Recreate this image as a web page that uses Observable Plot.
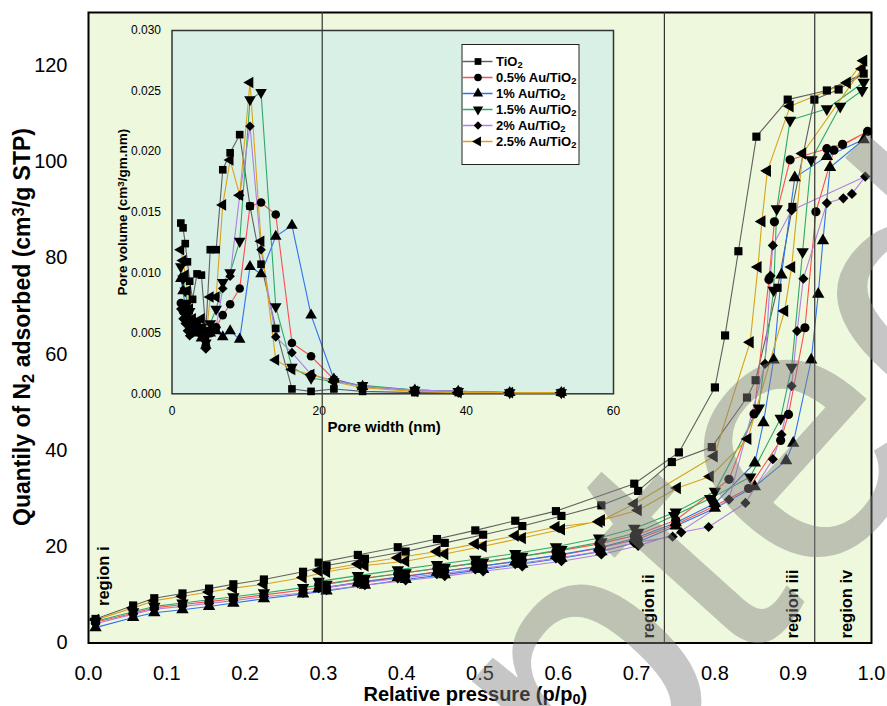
<!DOCTYPE html>
<html><head><meta charset="utf-8">
<script src="https://cdn.jsdelivr.net/npm/d3@7"></script>
<script src="https://cdn.jsdelivr.net/npm/@observablehq/plot@0.6"></script>
<style>
body{margin:0;background:#fff;}
#chart{position:relative;width:887px;height:706px;}
</style></head><body><div id="chart"></div>
<script>
// ---------- series ----------
const seriesNames = ["TiO_{2}", "0.5% Au/TiO_{2}", "1% Au/TiO_{2}", "1.5% Au/TiO_{2}", "2% Au/TiO_{2}", "2.5% Au/TiO_{2}"];
const seriesColors = ["#606060", "#ff4d4d", "#2f72ee", "#2fa866", "#b07ee4", "#d9a21a"];

// ---------- main isotherm (relative pressure, quantity adsorbed) ----------
const lowAdsP = [0.009,0.057,0.084,0.12,0.154,0.185,0.224,0.274,0.304,0.353,0.405,0.455,0.504,0.554,0.604,0.655,0.702];
const lowDesP = [0.697,0.652,0.597,0.545,0.494,0.445,0.395,0.344,0.294];

const tio2AdsP = [...lowAdsP, 0.745,0.796,0.841,0.852,0.88,0.899,0.927,0.958,0.99];
const tio2AdsQ = [5.0,7.8,9.3,10.3,11.3,12.2,13.2,14.8,16.1,17.5,19.0,20.8,22.5,24.3,26.4,28.6,31.6,37.6,40.7,51.0,54.6,73.8,90.6,112.9,115.0,118.3];
const tio2DesP = [0.943,0.893,0.853,0.83,0.813,0.80,0.754,0.697,0.597,0.545,0.494,0.445,0.395,0.344,0.294];
const tio2DesQ = [114.8,112.9,105.2,81.4,63.9,53.1,39.6,33.1,27.4,25.4,23.4,21.6,19.9,18.3,16.7];

const au05AdsP = [...lowAdsP, 0.75,0.80,0.843,0.884,0.894,0.915,0.929,0.952,0.995];
const au05AdsQ = [4.3,6.2,7.3,8.0,8.6,9.2,10.0,11.0,11.6,12.8,13.9,15.0,16.0,17.2,18.3,19.8,21.6,24.6,28.5,32.1,42.1,47.5,65.5,89.6,102.4,106.3];
const au05DesP = [0.963,0.943,0.896,0.876,0.869,0.85,0.818,0.75,...lowDesP];
const au05DesQ = [103.6,102.7,100.4,87.5,75.5,47.6,34.0,25.5,22.3,20.6,19.0,17.8,16.6,15.5,14.4,13.3,12.1];

const au1AdsP = [...lowAdsP, 0.75,0.80,0.851,0.891,0.90,0.923,0.932,0.938,0.947,0.99];
const au1AdsQ = [3.2,5.3,6.3,6.9,7.6,8.3,9.2,10.2,10.8,12.0,13.2,14.2,15.3,16.4,17.6,19.0,21.0,24.3,28.0,32.5,37.9,41.5,58.8,72.5,83.6,98.8,104.6];
const au1DesP = [0.943,0.902,0.885,0.875,0.862,0.851,0.80,0.75,...lowDesP];
const au1DesQ = [101.1,96.7,76.5,58.8,45.8,37.4,29.0,25.0,21.7,19.8,18.2,16.9,15.8,14.7,13.6,12.5,11.3];

const au15AdsP = [...lowAdsP, 0.748,0.794,0.845,0.884,0.898,0.912,0.923,0.96,0.988];
const au15AdsQ = [4.5,6.5,7.6,8.3,9.0,9.6,10.4,11.5,12.2,13.4,14.6,15.7,16.8,18.0,19.4,21.0,23.0,26.5,30.0,34.5,46.7,57.3,81.3,100.4,111.5,114.8];
const au15DesP = [0.99,0.943,0.896,0.879,0.875,0.856,0.80,0.75,...lowDesP];
const au15DesQ = [116.5,111.0,108.6,90.2,73.3,48.8,31.5,27.2,23.8,21.8,20.0,18.6,17.4,16.3,15.2,14.0,12.8];

const au2AdsP = [...lowAdsP, 0.757,0.792,0.839,0.874,0.885,0.898,0.905,0.913,0.943,0.964,0.975,0.992];
const au2AdsQ = [4.0,6.0,7.0,7.6,8.2,8.8,9.6,10.4,11.0,12.0,13.0,13.9,14.9,15.9,17.0,18.4,20.2,23.0,24.1,29.1,38.2,43.3,53.4,64.8,75.7,91.4,92.4,93.3,96.9];
const au2DesP = [0.898,0.874,0.871,0.864,0.818,0.746,...lowDesP];
const au2DesQ = [89.9,82.6,76.3,58.0,29.8,22.1,20.8,19.0,17.6,16.4,15.3,14.3,13.4,12.4,11.4];

const au25AdsP = [...lowAdsP, 0.752,0.794,0.842,0.889,0.898,0.912,0.988];
const au25AdsQ = [4.8,7.3,8.8,9.7,10.6,11.4,12.2,13.6,14.8,16.1,17.0,18.5,20.1,21.8,23.6,25.5,27.6,32.2,34.6,42.4,69.0,78.1,101.7,119.3];
const au25DesP = [0.99,0.969,0.896,0.867,0.86,0.855,0.845,0.799,...lowDesP];
const au25DesQ = [121.0,116.4,111.5,98.1,87.6,78.1,62.5,38.8,28.9,25.2,24.1,22.3,20.6,19.0,17.7,16.4,15.0];

// ---------- inset: pore size distribution ----------
const poreW = [1.2,1.5,1.8,2.1,2.4,2.8,3.4,4.0,4.6,5.2,6.0,6.9,7.9,9.2,10.6,12.1,14.1,16.3,18.9,22.0,25.9,33.0,38.9,45.9,52.9];
const tio2V = [0.0141,0.0137,0.0124,0.0109,0.0093,0.0078,0.0099,0.0098,0.0052,0.0119,0.0119,0.0185,0.0199,0.0214,0.0155,0.0107,0.0054,0.0004,0.0002,0.0004,0.0002,0.0001,0.0001,0.0001,0.0001];
const au05V = [0.0075,0.0068,0.0062,0.0058,0.0055,0.0052,0.0055,0.0050,0.0040,0.0050,0.0055,0.0065,0.0074,0.0087,0.0155,0.0158,0.0148,0.0042,0.0031,0.0012,0.0006,0.0003,0.0002,0.0001,0.0001];
const au1V  = [0.0095,0.0085,0.0072,0.0065,0.0058,0.0055,0.0050,0.0046,0.0040,0.0050,0.0052,0.0047,0.0052,0.0045,0.0105,0.0099,0.0130,0.0139,0.0065,0.0012,0.0006,0.0003,0.0002,0.0001,0.0001];
const au15V = [0.0105,0.0095,0.0085,0.0075,0.0068,0.0060,0.0058,0.0055,0.0042,0.0058,0.0070,0.0092,0.0100,0.0126,0.0243,0.0249,0.0072,0.0022,0.0013,0.0010,0.0007,0.0003,0.0002,0.0001,0.0001];
const au2V  = [0.0070,0.0062,0.0058,0.0052,0.0048,0.0050,0.0052,0.0048,0.0037,0.0052,0.0055,0.0087,0.0097,0.0164,0.0221,0.0119,0.0047,0.0034,0.0016,0.0011,0.0006,0.0003,0.0002,0.0001,0.0001];
const au25V = [0.0119,0.0110,0.0098,0.0085,0.0070,0.0062,0.0058,0.0062,0.0045,0.0080,0.0080,0.0156,0.0193,0.0164,0.0257,0.0126,0.0028,0.0020,0.0016,0.0010,0.0005,0.0002,0.0001,0.0001,0.0001];

// ---------- ticks & annotations ----------
const xTicks = [0,0.1,0.2,0.3,0.4,0.5,0.6,0.7,0.8,0.9,1.0];
const yTicks = [0,20,40,60,80,100,120];
const insetXTicks = [0,20,40,60];
const insetYTicks = [0,0.005,0.010,0.015,0.020,0.025,0.030];
const regionBounds = [0.2985, 0.7355, 0.9275];
const regionNames = ["region i","region ii","region iii","region iv"];
const regionLabelX = [0.0265, 0.7225, 0.9065, 0.9745];

// ---------- build tables ----------
const ads = [[tio2AdsP,tio2AdsQ],[au05AdsP,au05AdsQ],[au1AdsP,au1AdsQ],[au15AdsP,au15AdsQ],[au2AdsP,au2AdsQ],[au25AdsP,au25AdsQ]];
const des = [[tio2DesP,tio2DesQ],[au05DesP,au05DesQ],[au1DesP,au1DesQ],[au15DesP,au15DesQ],[au2DesP,au2DesQ],[au25DesP,au25DesQ]];
const iso = [];
seriesNames.forEach((s,i)=>{
  ads[i][0].forEach((p,j)=>iso.push({s, p, q: ads[i][1][j]}));
  des[i][0].forEach((p,j)=>iso.push({s, p, q: des[i][1][j]}));
});
const psdV = [tio2V,au05V,au1V,au15V,au2V,au25V];
const psd = [];
seriesNames.forEach((s,i)=>poreW.forEach((w,j)=>psd.push({s, w, v: psdV[i][j]})));

// ---------- symbols ----------
const sqrt3 = Math.sqrt(3);
const triangleDown = {draw(c,size){const y=-Math.sqrt(size/(sqrt3*3)); c.moveTo(0,-y*2); c.lineTo(-sqrt3*y,y); c.lineTo(sqrt3*y,y); c.closePath();}};
const triangleLeft = {draw(c,size){const y=-Math.sqrt(size/(sqrt3*3)); c.moveTo(y*2,0); c.lineTo(-y,-sqrt3*y); c.lineTo(-y,sqrt3*y); c.closePath();}};
const seriesSymbols = ["square","circle","triangle",triangleDown,"diamond2",triangleLeft];

const font = "'Liberation Sans', Arial, sans-serif";
const ns = "http://www.w3.org/2000/svg";

function richify(root){
  root.querySelectorAll("text").forEach(t=>{
    const s = t.textContent;
    if(!/[_^]\{/.test(s)) return;
    while(t.firstChild) t.removeChild(t.firstChild);
    const re = /([_^])\{([^}]*)\}/g; let last = 0, m;
    while((m = re.exec(s))){
      if(m.index > last){const a=document.createElementNS(ns,"tspan"); a.textContent=s.slice(last,m.index); t.appendChild(a);}
      const b=document.createElementNS(ns,"tspan"); b.textContent=m[2];
      b.setAttribute("baseline-shift", m[1]==="_" ? "-22%" : "35%");
      b.setAttribute("font-size","72%"); t.appendChild(b);
      last = re.lastIndex;
    }
    if(last < s.length){const a=document.createElementNS(ns,"tspan"); a.textContent=s.slice(last); t.appendChild(a);}
  });
}
function fixSize(svg, w, h){
  svg.style.width = w + "px"; svg.style.height = h + "px"; svg.style.maxWidth = "none";
}

// ---------- main plot ----------
const main = Plot.plot({
  width: 887, height: 706,
  marginLeft: 88, marginRight: 16, marginTop: 12, marginBottom: 63.5,
  style: {fontFamily: font, fontSize: "20px", color: "#000", background: "transparent", overflow: "hidden"},
  x: {domain: [0,1], ticks: xTicks, tickFormat: d3.format(".1f"), tickSize: 0, tickPadding: 23, label: null},
  y: {domain: [0,131], ticks: yTicks, tickSize: 0, tickPadding: 21, label: null},
  color: {domain: seriesNames, range: seriesColors},
  symbol: {domain: seriesNames, range: seriesSymbols},
  marks: [
    Plot.frame({fill: "#eef8dd", stroke: "none"}),
    Plot.line(iso, {x: "p", y: "q", z: "s", stroke: "s", strokeWidth: 1.1}),
    Plot.dot(iso, {x: "p", y: "q", symbol: "s", fill: "black", r: 4.6}),
    Plot.ruleX(regionBounds, {stroke: "#333", strokeWidth: 1.2}),
    Plot.frame({stroke: "black", strokeWidth: 2}),
    Plot.text([regionNames[0]], {x: [regionLabelX[0]], frameAnchor: "bottom", dy: -37, rotate: -90, textAnchor: "start", lineAnchor: "bottom", fontSize: 16.5, fontWeight: "bold"}),
    Plot.text(regionNames.slice(1), {x: regionLabelX.slice(1), frameAnchor: "bottom", dy: -4.5, rotate: -90, textAnchor: "start", lineAnchor: "bottom", fontSize: 16.5, fontWeight: "bold"}),
    Plot.text(["Relative pressure (p/p_{0})"], {frameAnchor: "bottom-left", dx: 275, dy: 57.5, textAnchor: "start", lineAnchor: "bottom", fontSize: 20, fontWeight: "bold"}),
    Plot.text(["Quantily of N_{2} adsorbed (cm^{3}/g STP)"], {frameAnchor: "bottom-left", dx: -59, dy: -117, rotate: -90, textAnchor: "start", lineAnchor: "bottom", fontSize: 23, fontWeight: "bold"})
  ]
});

// ---------- inset ----------
const inset = Plot.plot({
  width: 530, height: 420,
  marginLeft: 71.5, marginRight: 17, marginTop: 10, marginBottom: 46.7,
  style: {fontFamily: font, fontSize: "12px", color: "#000", background: "transparent", overflow: "visible"},
  x: {domain: [0,60], ticks: insetXTicks, tickSize: 0, tickPadding: 13, label: null},
  y: {domain: [0,0.03], ticks: insetYTicks, tickFormat: d3.format(".3f"), tickSize: 0, tickPadding: 11, label: null},
  color: {domain: seriesNames, range: seriesColors},
  symbol: {domain: seriesNames, range: seriesSymbols},
  marks: [
    Plot.frame({fill: "#d9f0e7", stroke: "#333", strokeWidth: 1.5}),
    Plot.line(psd, {x: "w", y: "v", z: "s", stroke: "s", strokeWidth: 1.1}),
    Plot.dot(psd, {x: "w", y: "v", symbol: "s", fill: "black", r: 4.3}),
    Plot.text(["Pore width (nm)"], {frameAnchor: "bottom-left", dx: 155.5, dy: 38, textAnchor: "start", lineAnchor: "bottom", fontSize: 15, fontWeight: "bold"}),
    Plot.text(["Pore volume (cm^{3}/gm.nm)"], {frameAnchor: "left", dx: -45, rotate: -90, textAnchor: "middle", lineAnchor: "bottom", fontSize: 13.5, fontWeight: "bold"})
  ]
});

// ---------- legend ----------
const legend = Plot.plot({
  width: 117, height: 120, margin: 0,
  style: {fontFamily: font, fontSize: "13px", color: "#000", background: "transparent", overflow: "visible"},
  x: {domain: [0,117], range: [0,117], axis: null},
  y: {type: "point", domain: seriesNames, range: [9, 105.5], axis: null},
  color: {domain: seriesNames, range: seriesColors},
  symbol: {domain: seriesNames, range: seriesSymbols},
  marks: [
    Plot.frame({fill: "white", stroke: "#222", strokeWidth: 1}),
    Plot.ruleY(seriesNames, {y: d=>d, x1: 1, x2: 31, stroke: d=>d, strokeWidth: 1.5}),
    Plot.dot(seriesNames, {y: d=>d, x: 16, symbol: d=>d, fill: "black", r: 3.8}),
    Plot.text(seriesNames, {y: d=>d, x: 34, text: d=>d, textAnchor: "start", fontWeight: "bold", fontSize: 13})
  ]
});

// ---------- assemble ----------
const ruleG = Array.from(main.children).find(el => el.getAttribute && el.getAttribute("aria-label") === "rule");
fixSize(inset, 530, 420); fixSize(legend, 117, 120);
inset.setAttribute("x", 100); inset.setAttribute("y", 20);
legend.setAttribute("x", 361.5); legend.setAttribute("y", 24);
inset.appendChild(legend);
main.appendChild(inset);
if (ruleG) main.appendChild(ruleG);
richify(main);

// watermark
const wm = document.createElementNS(ns, "text");
wm.textContent = "Accepted";
wm.setAttribute("transform", "translate(50.5,1441) rotate(-48)");
wm.setAttribute("font-size", 370);
wm.setAttribute("font-family", font);
wm.setAttribute("text-anchor", "start");
wm.setAttribute("fill", "#808080");
wm.setAttribute("fill-opacity", 0.45);
main.appendChild(wm);

document.getElementById("chart").appendChild(main);
</script></body></html>
